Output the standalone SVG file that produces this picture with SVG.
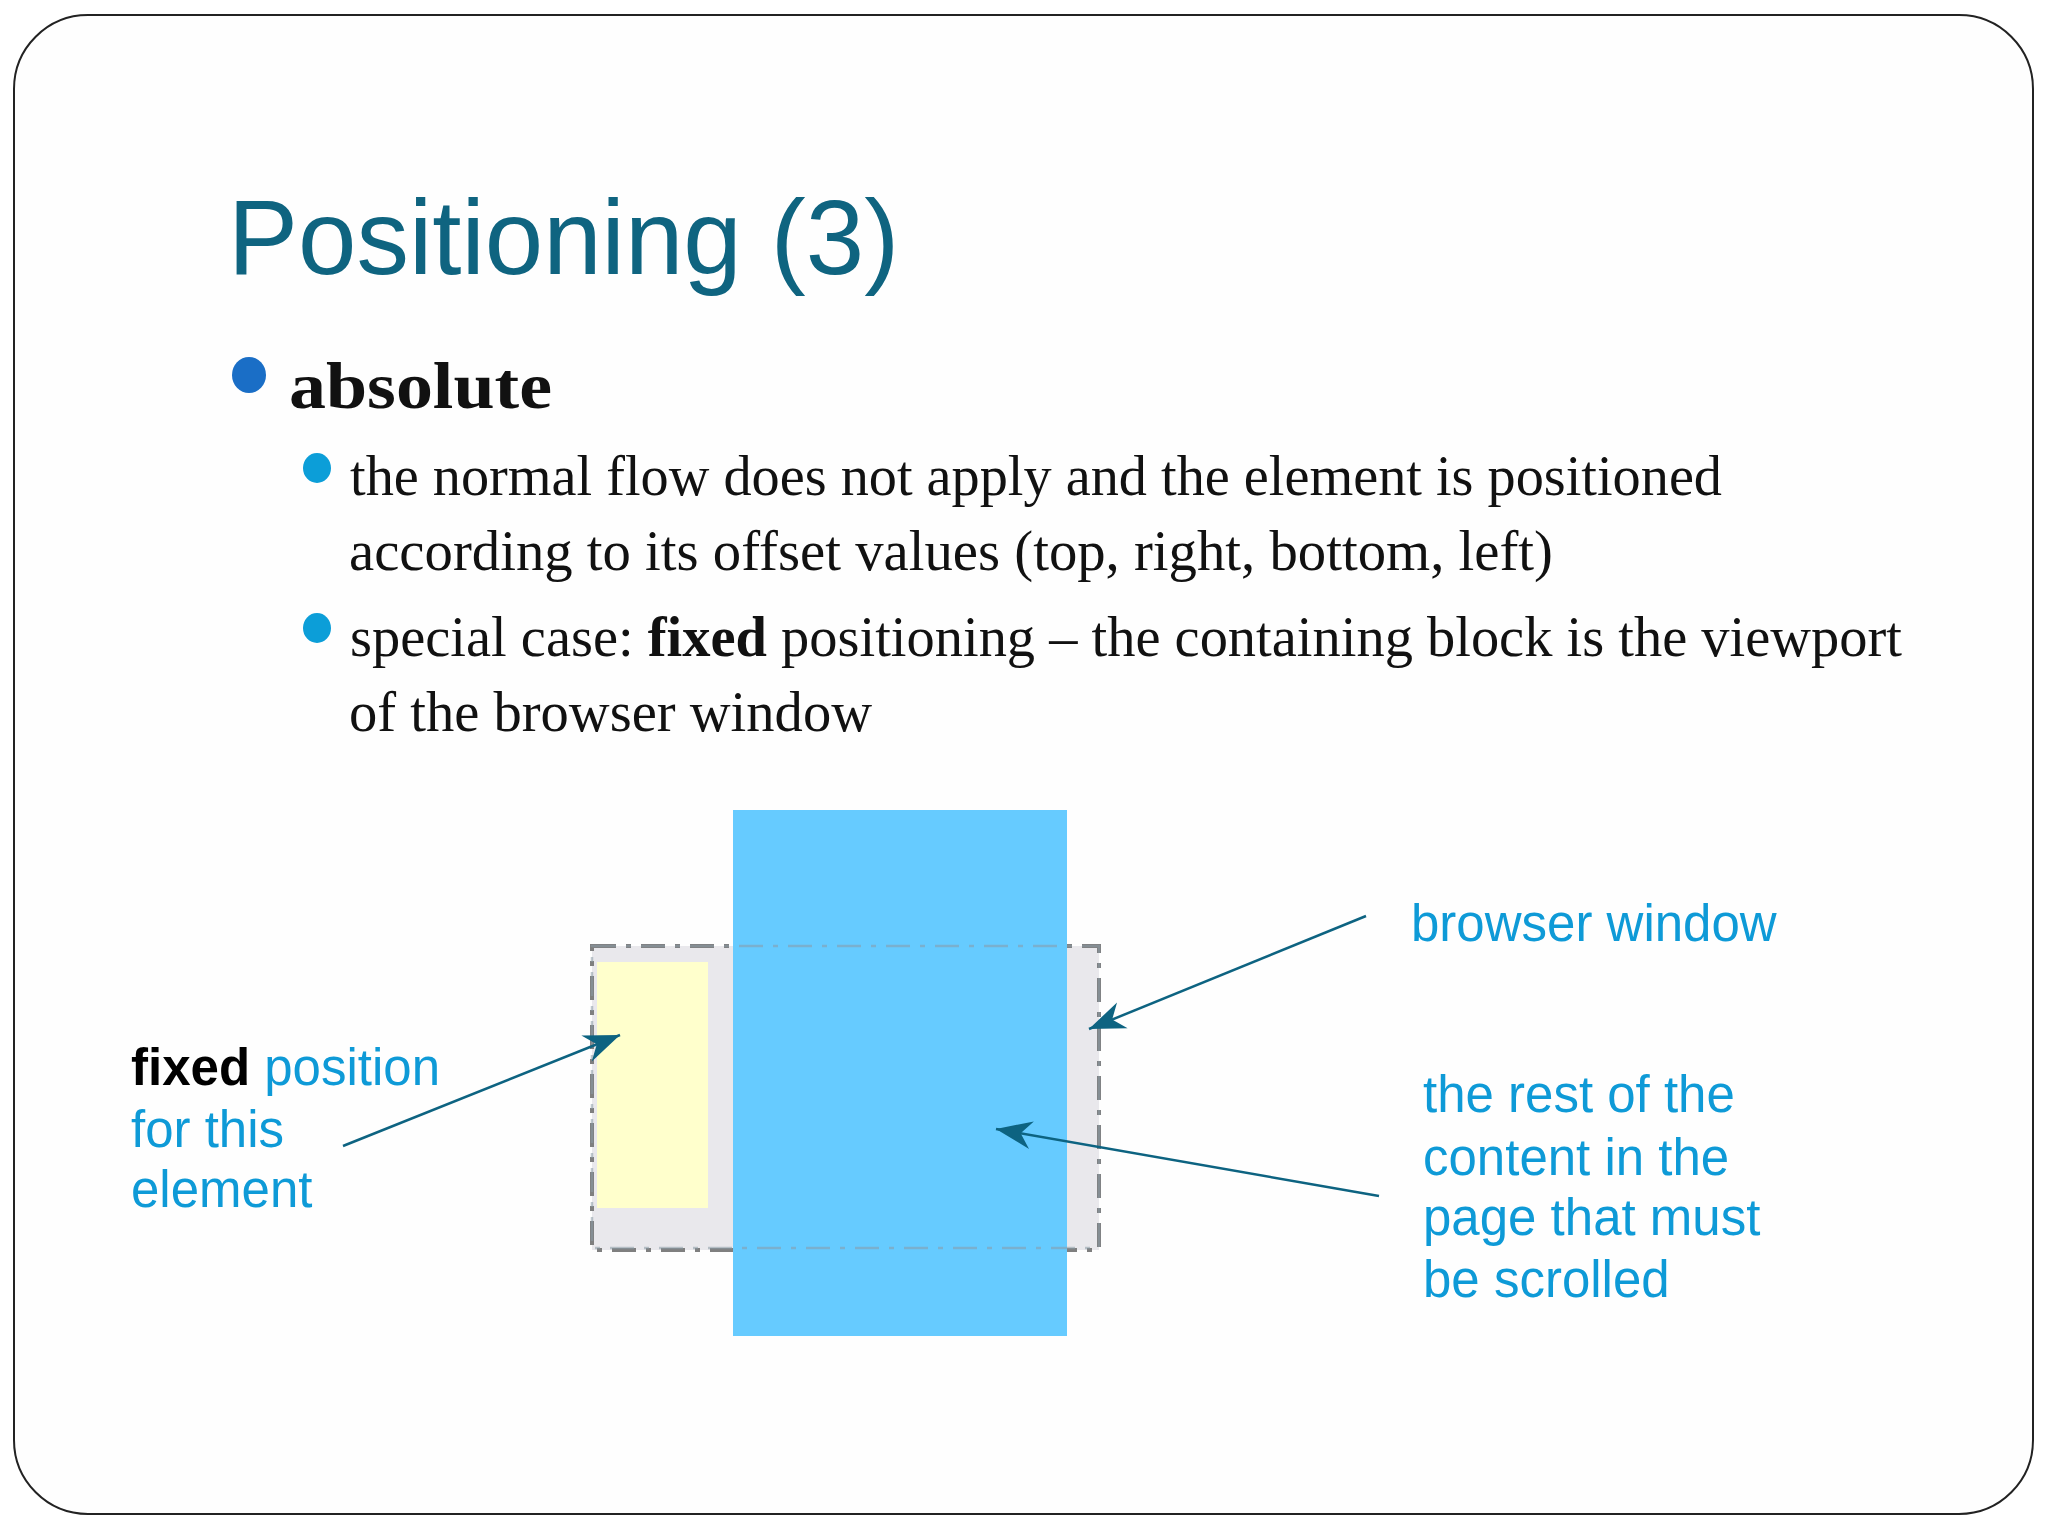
<svg xmlns="http://www.w3.org/2000/svg" width="2048" height="1536" viewBox="0 0 2048 1536">
<style>
.title{font-family:"Liberation Sans",Arial,sans-serif;font-size:105px;fill:#0f6480}
.body{font-family:"Liberation Serif","Times New Roman",serif;font-size:56px;fill:#111}
.lbl{font-family:"Liberation Sans",Arial,sans-serif;font-size:51px;fill:#0e9ad7}
.conn{stroke:#0d6381;stroke-width:2.5;fill:none}
</style>
<defs>
<marker id="ah" viewBox="-38 -17 40 34" markerWidth="40" markerHeight="34" refX="0" refY="0" markerUnits="userSpaceOnUse" orient="auto">
<path d="M0,0 L-36,-14 L-25,0 L-36,14 Z" fill="#0d6381"/>
</marker>
</defs>
<rect x="0" y="0" width="2048" height="1536" fill="#ffffff"/>
<rect id="frame" x="14" y="15" width="2019" height="1499" rx="74" ry="74" fill="#fefefe" stroke="#222" stroke-width="2"/>

<g id="title"><text class="title" x="228" y="274">Positioning (3)</text></g>

<g id="bullets">
<ellipse cx="249" cy="375" rx="17" ry="18" fill="#1a6ec6"/>
<text x="289" y="408" font-family="'Liberation Serif','Times New Roman',serif" font-weight="bold" font-size="66" fill="#111" textLength="263" lengthAdjust="spacingAndGlyphs">absolute</text>
<ellipse cx="317" cy="468" rx="14" ry="15" fill="#0c9ed8"/>
<text class="body" x="350" y="495" textLength="1372" lengthAdjust="spacingAndGlyphs">the normal flow does not apply and the element is positioned</text>
<text class="body" x="349" y="570" textLength="1204" lengthAdjust="spacingAndGlyphs">according to its offset values (top, right, bottom, left)</text>
<ellipse cx="317" cy="628" rx="14" ry="15" fill="#0c9ed8"/>
<text class="body" x="350" y="656" textLength="1552" lengthAdjust="spacingAndGlyphs">special case: <tspan font-weight="bold">fixed</tspan> positioning – the containing block is the viewport</text>
<text class="body" x="349" y="731" textLength="523" lengthAdjust="spacingAndGlyphs">of the browser window</text>
</g>

<g id="page-content">
<rect x="592" y="946" width="507" height="304" fill="#e9e8ec" stroke="#7f7f7f" stroke-width="4" stroke-dasharray="24,10,5,10"/>
</g>
<g id="fixed-element">
<rect x="597" y="962" width="111" height="246" fill="#ffffcc"/>
</g>
<g id="browser-window">
<rect x="733" y="810" width="334" height="526" fill="#66cbff"/>
<rect x="592" y="946" width="507" height="302" fill="none" stroke="#8a9aa6" stroke-opacity="0.55" stroke-width="2.5" stroke-dasharray="24,10,5,10"/>
</g>

<g id="connectors">
<line class="conn" x1="343" y1="1146" x2="620" y2="1035" marker-end="url(#ah)"/>
<line class="conn" x1="1366" y1="916" x2="1089" y2="1029" marker-end="url(#ah)"/>
<line class="conn" x1="1379" y1="1196" x2="996" y2="1129" marker-end="url(#ah)"/>
</g>

<g id="label-fixed">
<text class="lbl" x="131" y="1085"><tspan font-weight="bold" fill="#000">fixed</tspan> position</text>
<text class="lbl" x="131" y="1147">for this</text>
<text class="lbl" x="131" y="1207">element</text>
</g>
<g id="label-browser">
<text class="lbl" x="1411" y="941">browser window</text>
</g>
<g id="label-rest">
<text class="lbl" x="1423" y="1112">the rest of the</text>
<text class="lbl" x="1423" y="1175">content in the</text>
<text class="lbl" x="1423" y="1235">page that must</text>
<text class="lbl" x="1423" y="1297">be scrolled</text>
</g>
</svg>
